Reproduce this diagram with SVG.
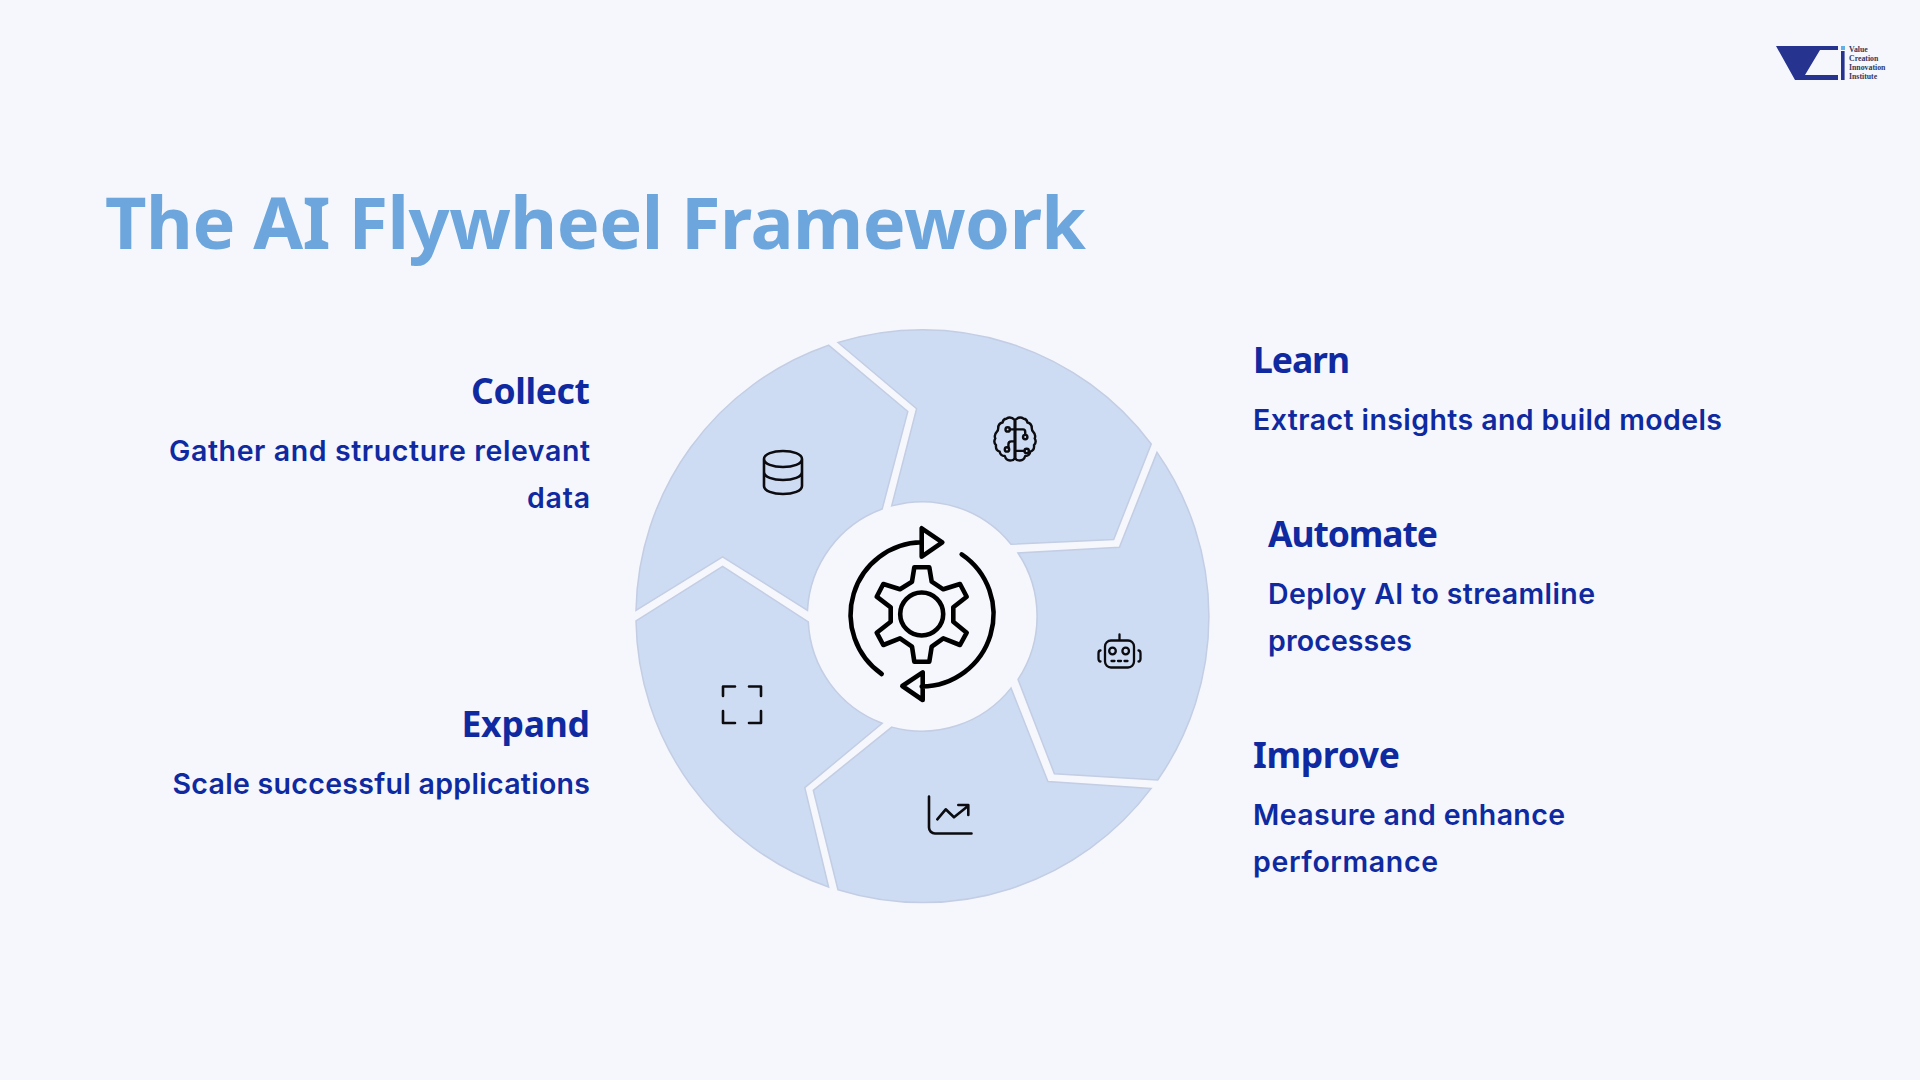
<svg xmlns="http://www.w3.org/2000/svg" width="1920" height="1080" viewBox="0 0 1920 1080">
<style>
.seg{fill:#cddcf2;stroke:#c3cde4;stroke-width:1.5;stroke-linejoin:miter}
.ic{fill:none;stroke:#0b0b10;stroke-width:2.6;stroke-linecap:round;stroke-linejoin:round}
.br{fill:none;stroke:#0b0b10;stroke-width:6.6;stroke-linecap:round;stroke-linejoin:round}
.hub{fill:none;stroke:#000;stroke-width:4.6;stroke-linecap:round;stroke-linejoin:round}
.h{font-family:"Noto Sans","Open Sans",sans-serif;font-weight:700;font-size:35.5px;fill:#0f2aa0}
.b{font-family:"Inter","Noto Sans",sans-serif;font-weight:600;font-size:28.5px;fill:#0f2aa0}
.e{text-anchor:end}
.t{font-family:"Noto Sans","Open Sans",sans-serif;font-weight:700;font-size:72px;fill:#6ca6dc}
.l{font-family:"Liberation Serif",serif;font-weight:700;font-size:7.8px;fill:#33375f}
</style>
<rect width="1920" height="1080" fill="#f5f7fc"/>
<text class="t" x="105" y="249" textLength="981">The AI Flywheel Framework</text>
<g id="logo"><path d="M1776 46H1838V50H1820L1805 75H1838V80H1795Z" fill="#27348f"/><rect x="1841" y="46" width="4" height="4" fill="#62b0e8"/><rect x="1841" y="51" width="3.6" height="29" fill="#27348f"/>
<text class="l" x="1849" y="52">Value</text><text class="l" x="1849" y="61">Creation</text><text class="l" x="1849" y="70">Innovation</text><text class="l" x="1849" y="79">Institute</text></g>
<g id="collect"><path class="seg" d="M636 610.4L722.6 556.8L807.5 610.4A114 114 0 0 1 882.2 509L907.8 411.4L828.6 345.2A286 286 0 0 0 636 610.4Z"/>
<path class="ic" d="M764 459c0-5 9-8 19-8s19 3 19 8v27c0 5-9 8-19 8s-19-3-19-8zM764 459c0 5 9 8 19 8s19-3 19-8M764 472c0 5 9 8 19 8s19-3 19-8"/>
<text class="h e" x="590" y="404" textLength="119">Collect</text><text class="b e" x="590" y="460.500" textLength="421">Gather and structure relevant</text><text class="b e" x="590" y="507.500" textLength="63">data</text></g>
<g id="learn"><path class="seg" d="M838 342.5L916.6 408.7L891.7 505.9A114 114 0 0 1 1011 544.2L1113.7 539.6L1151.2 444A286 286 0 0 0 838 342.5Z"/>
<g transform="translate(1015 438.5) scale(.365) translate(-90 -98)"><path class="br" d="M89 47Q78 36 66 44Q58 44 56 54Q44 56 44 70Q44 76 40 80Q32 88 36 98Q30 108 38 116Q36 130 48 134Q50 146 62 146Q66 160 80 158Q86 158 89 152ZM91 47Q102 36 114 44Q122 44 124 54Q136 56 136 70Q136 76 140 80Q148 88 144 98Q150 108 142 116Q144 130 132 134Q130 146 118 146Q114 160 100 158Q94 158 91 152ZM90 47V152M76 73H112Q118 73 118 80V87M72 122V114Q72 106 80 106H90M90 132H116"/>
<circle class="br" cx="70" cy="73" r="6"/><circle class="br" cx="118" cy="94" r="6"/><circle class="br" cx="68" cy="128" r="6"/><circle class="br" cx="122" cy="132" r="6"/></g>
<text class="h" x="1253" y="373" textLength="97">Learn</text><text class="b" x="1253" y="429.500" textLength="469">Extract insights and build models</text></g>
<g id="automate"><path class="seg" d="M1157 452.4L1119.4 547.3L1018 553A114 114 0 0 1 1018 679.3L1054.4 773.8L1157.7 780A286 286 0 0 0 1157 452.4Z"/>
<path class="ic" style="stroke-width:2.3" d="M1111 640.500h17a6 6 0 0 1 6 6v15a6 6 0 0 1-6 6h-17a6 6 0 0 1-6-6v-15a6 6 0 0 1 6-6zM1119.500 640.500v-6M1100.500 650.500q-2 0-2 3v5q0 3 2 3M1138.500 650.500q2 0 2 3v5q0 3-2 3M1111.500 661h3M1118 661h3M1124.500 661h3"/>
<circle class="ic" style="stroke-width:2.3" cx="1112.500" cy="651" r="3.300"/><circle class="ic" style="stroke-width:2.3" cx="1125.700" cy="651" r="3.300"/>
<text class="h" x="1268" y="547" textLength="170">Automate</text><text class="b" x="1268" y="603.500" textLength="327">Deploy AI to streamline</text><text class="b" x="1268" y="650.500" textLength="144">processes</text></g>
<g id="improve"><path class="seg" d="M1151.2 788.4L1047.9 781.500L1011 688.1A114 114 0 0 1 891.7 727.1L813.3 790.3L838 889.8A286 286 0 0 0 1151.2 788.4Z"/>
<path class="ic" d="M929 796.500v31a6 6 0 0 0 6 6h36.500M937.300 819.300l8.400-10l8.300 8l14.300-11.600M958.300 805h10v10"/>
<text class="h" x="1253" y="768" textLength="147">Improve</text><text class="b" x="1253" y="824.500" textLength="312">Measure and enhance</text><text class="b" x="1253" y="871.500" textLength="185">performance</text></g>
<g id="expand"><path class="seg" d="M828.6 887L804.8 787.6L882.2 723.3A114 114 0 0 1 808.3 621.9L722.6 566.4L636 620.8A286 286 0 0 0 828.6 887Z"/>
<path class="ic" d="M723 696V686.500H735M749 686.500H761V696M723 711V723H735M749 723H761V711"/>
<text class="h e" x="590" y="737" textLength="128.600">Expand</text><text class="b e" x="590" y="793.500" textLength="417.500">Scale successful applications</text></g>
<g id="hub"><path class="hub" d="M921.700 542.300A72.300 72.300 0 0 0 881.700 674M961.700 554.300A72.300 72.300 0 0 1 921.700 686.500M921.700 528.300V556.700L942.300 542.300ZM922.700 672.300V700L902.300 686Z"/>
<circle class="hub" cx="921.700" cy="614" r="21.500"/>
<path class="hub" d="M914.300 567.300H929.300L931.700 581.700L943.300 589.300L960 584L966.700 596.700L953.300 607.300V621.700L966.700 632.700L960 645L943.300 638.300L931.700 646.700L929.300 661.700H914.300L912 646.700L900 638.300L883.300 645L876.700 632.700L890.700 621.700V607.300L876.700 596.700L883.300 584L900 589.300L912 581.700Z"/>
</g>
</svg>
